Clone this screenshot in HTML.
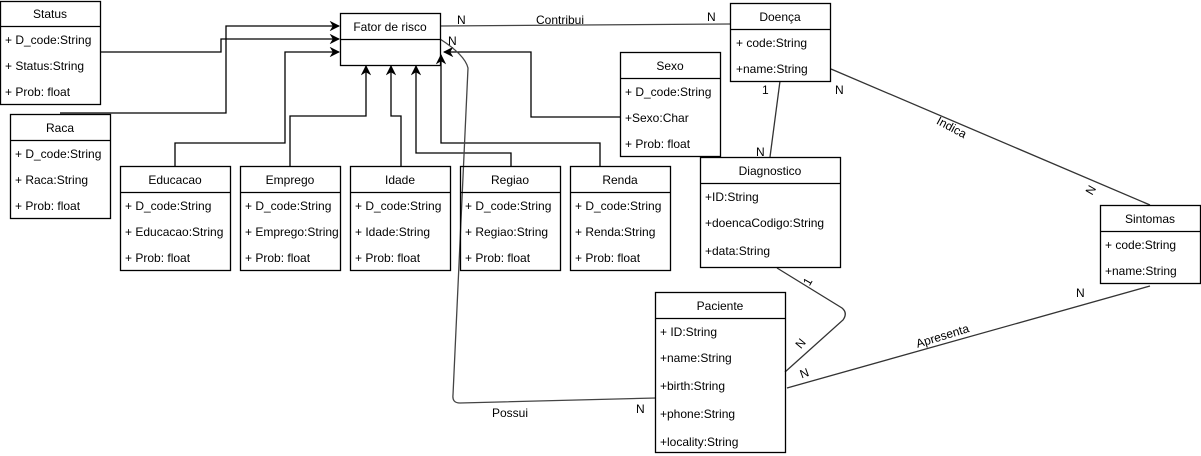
<!DOCTYPE html>
<html><head><meta charset="utf-8"><style>
html,body{margin:0;padding:0;background:#fff;}
svg{display:block;}
text{font-family:"Liberation Sans",sans-serif;font-size:12px;fill:#000;}
</style></head><body>
<svg width="1201" height="456" viewBox="0 0 1201 456" xmlns="http://www.w3.org/2000/svg">
<defs>
<marker id="a" viewBox="0 0 10 10" refX="9" refY="5" markerWidth="8" markerHeight="8" orient="auto"><path d="M0,0 L10,5 L0,10 L3,5 z" fill="#000"/></marker>
</defs>
<g fill="none" stroke="#000" stroke-width="1.3">
<!-- connectors -->
<polyline points="101,52 221,52 221,39 339,39" marker-end="url(#a)"/>
<polyline points="60,113 226,113 226,26 339,26" marker-end="url(#a)"/>
<polyline points="175,166 175,143 285,143 285,52 339,52" marker-end="url(#a)"/>
<polyline points="290,166 290,116 366,116 366,66" marker-end="url(#a)"/>
<polyline points="401,166 401,116 391,116 391,66" marker-end="url(#a)"/>
<polyline points="511,166 511,153 416,153 416,66" marker-end="url(#a)"/>
<polyline points="600,166 600,143 441,143 441,55" marker-end="url(#a)"/>
<polyline points="620,117 531,117 531,52 444,52" marker-end="url(#a)"/>
<path d="M440,26 L730,24" stroke="#444"/>
<path d="M440,39 Q465,55 468,68 L453,395 Q452,403 460,403 L656,398" stroke="#444"/>
<path d="M780,81 L770,157" stroke="#333"/>
<path d="M831,69 L1150,205" stroke="#333"/>
<path d="M777,268 L842,308 Q848,313 843,320 L785,372" stroke="#333"/>
<path d="M787,388 L1150,286" stroke="#333"/>
<!-- boxes -->
<rect x="0.5" y="1.5" width="100" height="103"/><line x1="0" y1="26.5" x2="101" y2="26.5"/>
<rect x="340.5" y="13.5" width="100" height="52"/><line x1="340" y1="39.5" x2="441" y2="39.5"/>
<rect x="730.5" y="3.5" width="100" height="78"/><line x1="730" y1="29.5" x2="831" y2="29.5"/>
<rect x="620.5" y="52.5" width="100" height="104"/><line x1="620" y1="78.5" x2="721" y2="78.5"/>
<rect x="10.5" y="114.5" width="100" height="104"/><line x1="10" y1="140.5" x2="111" y2="140.5"/>
<rect x="120.5" y="166.5" width="110" height="104"/><line x1="120" y1="192.5" x2="231" y2="192.5"/>
<rect x="240.5" y="166.5" width="100" height="104"/><line x1="240" y1="192.5" x2="341" y2="192.5"/>
<rect x="350.5" y="166.5" width="100" height="104"/><line x1="350" y1="192.5" x2="451" y2="192.5"/>
<rect x="460.5" y="166.5" width="100" height="104"/><line x1="460" y1="192.5" x2="561" y2="192.5"/>
<rect x="570.5" y="166.5" width="100" height="104"/><line x1="570" y1="192.5" x2="671" y2="192.5"/>
<rect x="700.5" y="157.5" width="140" height="110"/><line x1="700" y1="183.5" x2="841" y2="183.5"/>
<rect x="1100.5" y="205.5" width="100" height="78"/><line x1="1100" y1="231.5" x2="1201" y2="231.5"/>
<rect x="655.5" y="292.5" width="130" height="160"/><line x1="655" y1="318.5" x2="786" y2="318.5"/>
</g>
<g text-anchor="middle">
<text x="50" y="18">Status</text>
<text x="390" y="31">Fator de risco</text>
<text x="780" y="21">Doença</text>
<text x="670" y="70">Sexo</text>
<text x="60" y="132">Raca</text>
<text x="175" y="184">Educacao</text>
<text x="290" y="184">Emprego</text>
<text x="400" y="184">Idade</text>
<text x="510" y="184">Regiao</text>
<text x="620" y="184">Renda</text>
<text x="770" y="175">Diagnostico</text>
<text x="1150" y="223">Sintomas</text>
<text x="720" y="310">Paciente</text>
</g>
<g>
<text x="5" y="44">+ D_code:String</text><text x="5" y="70">+ Status:String</text><text x="5" y="96">+ Prob: float</text>
<text x="736" y="47">+ code:String</text><text x="736" y="73">+name:String</text>
<text x="625" y="96">+ D_code:String</text><text x="625" y="122">+Sexo:Char</text><text x="625" y="148">+ Prob: float</text>
<text x="15" y="158">+ D_code:String</text><text x="15" y="184">+ Raca:String</text><text x="15" y="210">+ Prob: float</text>
<text x="125" y="210">+ D_code:String</text><text x="125" y="236">+ Educacao:String</text><text x="125" y="262">+ Prob: float</text>
<svg x="240" y="190" width="100" height="80"><text x="5" y="20">+ D_code:String</text><text x="5" y="46">+ Emprego:String</text><text x="5" y="72">+ Prob: float</text></svg>
<text x="355" y="210">+ D_code:String</text><text x="355" y="236">+ Idade:String</text><text x="355" y="262">+ Prob: float</text>
<text x="465" y="210">+ D_code:String</text><text x="465" y="236">+ Regiao:String</text><text x="465" y="262">+ Prob: float</text>
<text x="575" y="210">+ D_code:String</text><text x="575" y="236">+ Renda:String</text><text x="575" y="262">+ Prob: float</text>
<text x="705" y="201">+ID:String</text><text x="705" y="227">+doencaCodigo:String</text><text x="705" y="255">+data:String</text>
<text x="1105" y="249">+ code:String</text><text x="1105" y="275">+name:String</text>
<text x="660" y="336">+ ID:String</text><text x="660" y="362">+name:String</text><text x="660" y="390">+birth:String</text><text x="660" y="418">+phone:String</text><text x="660" y="446">+locality:String</text>
<!-- labels -->
<text x="457" y="24">N</text>
<text x="536" y="24">Contribui</text>
<text x="448" y="45">N</text>
<text x="707" y="21">N</text>
<text x="762" y="94">1</text>
<text x="835" y="94">N</text>
<text x="756" y="156">N</text>
<text x="934" y="130" transform="rotate(28 948 130)">Indica</text>
<text x="1087" y="193" transform="rotate(-60 1092 190)">N</text>
<text x="804" y="285" transform="rotate(-60 808 281)">1</text>
<text x="796" y="347" transform="rotate(-50 801 343)">N</text>
<text x="1076" y="297">N</text>
<text x="914" y="340" transform="rotate(-17 942 332)">Apresenta</text>
<text x="800" y="377" transform="rotate(-20 805 373)">N</text>
<text x="636" y="413">N</text>
<text x="492" y="417">Possui</text>
</g>
</svg>
</body></html>
